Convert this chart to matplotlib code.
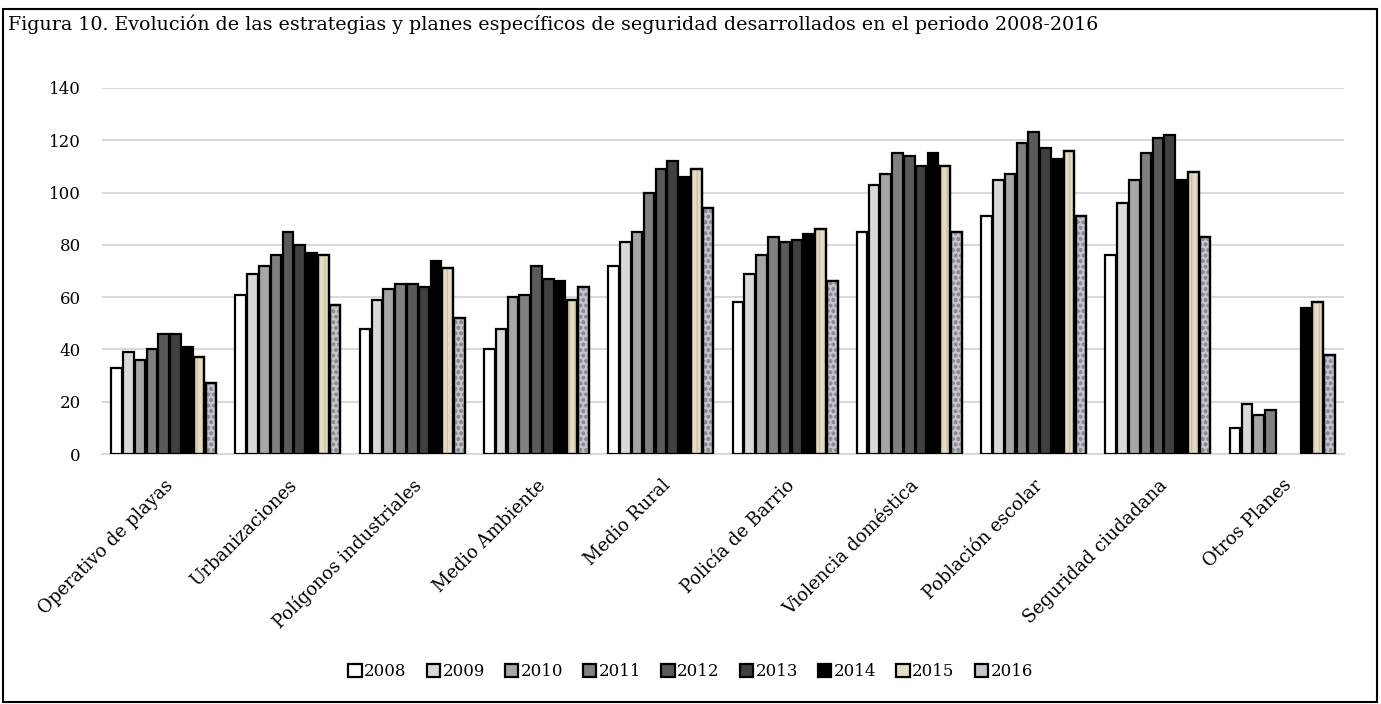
import matplotlib.pyplot as plt
import numpy as np

# ---------------------------------------------------------------
# Data
# ---------------------------------------------------------------
categorias = [
    "Operativo de playas", "Urbanizaciones", "Polígonos industriales",
    "Medio Ambiente", "Medio Rural", "Policía de Barrio",
    "Violencia doméstica", "Población escolar", "Seguridad ciudadana",
    "Otros Planes",
]
anios = ["2008", "2009", "2010", "2011", "2012", "2013", "2014", "2015", "2016"]

nan = np.nan
v2008 = [33, 61, 48, 40, 72, 58, 85, 91, 76, 10]
v2009 = [39, 69, 59, 48, 81, 69, 103, 105, 96, 19]
v2010 = [36, 72, 63, 60, 85, 76, 107, 107, 105, 15]
v2011 = [40, 76, 65, 61, 100, 83, 115, 119, 115, 17]
v2012 = [46, 85, 65, 72, 109, 81, 114, 123, 121, nan]
v2013 = [46, 80, 64, 67, 112, 82, 110, 117, 122, nan]
v2014 = [41, 77, 74, 66, 106, 84, 115, 113, 105, 56]
v2015 = [37, 76, 71, 59, 109, 86, 110, 116, 108, 58]
v2016 = [27, 57, 52, 64, 94, 66, 85, 91, 83, 38]
series = [v2008, v2009, v2010, v2011, v2012, v2013, v2014, v2015, v2016]

colores = ["#ffffff", "#d9d9d9", "#a6a6a6", "#808080", "#5a5a5a",
           "#404040", "#000000", "#e6dcc6", "#c4c6cc"]
texturas = [None, None, None, None, None, None, None, "|||", "ooo"]
color_textura = {"|||": "#cdbf9f", "ooo": "#8a8c92"}

plt.rcParams["font.family"] = ["DejaVu Serif"]

fig = plt.figure(figsize=(13.81, 7.04), dpi=100)
ax = fig.add_axes([0.0735, 0.355, 0.9, 0.52])

x = np.arange(len(categorias))
paso = 0.095
ancho = 0.085
for i, (anio, vals) in enumerate(zip(anios, series)):
    pos = x + (i - 4) * paso
    ax.bar(pos, vals, width=ancho, color=colores[i], edgecolor="black",
           linewidth=1.6, label=anio, zorder=3)
    if texturas[i]:
        ax.bar(pos, vals, width=ancho, color="none",
               edgecolor=color_textura[texturas[i]], linewidth=0,
               hatch=texturas[i], zorder=3.5)
        ax.bar(pos, vals, width=ancho, color="none", edgecolor="black",
               linewidth=1.6, zorder=4)

ax.set_ylim(0, 140)
ax.set_xlim(-0.5, len(categorias) - 0.5)
ax.set_yticks(range(0, 141, 20))
ax.yaxis.grid(True, color="#d9d9d9", linewidth=1.5, zorder=0)
ax.set_axisbelow(True)
for s in ["top", "right", "left"]:
    ax.spines[s].set_visible(False)
ax.spines["bottom"].set_color("#d9d9d9")
ax.spines["bottom"].set_linewidth(1.5)
ax.tick_params(axis="y", length=0, labelsize=12, pad=15)
ax.tick_params(axis="x", length=0, labelsize=13, pad=16)
ax.set_xticks(x)
ax.set_xticklabels(categorias, rotation=45, ha="right", rotation_mode="anchor")

leg = ax.legend(loc="center", bbox_to_anchor=(0.5, 0.0455), bbox_transform=fig.transFigure,
                ncol=9, frameon=False, fontsize=12, handlelength=0.8,
                handleheight=0.8, handletextpad=0.15, columnspacing=1.2)

fig.text(0.006, 0.965,
         "Figura 10. Evolución de las estrategias y planes específicos de seguridad desarrollados en el periodo 2008-2016",
         fontsize=13.7, ha="left", va="center")

# marco exterior
fig.patches.append(plt.Rectangle((0.002, 0.003), 0.995, 0.984, transform=fig.transFigure,
                                 fill=False, edgecolor="black", linewidth=1.5))

fig.savefig("out.png", dpi=100)
